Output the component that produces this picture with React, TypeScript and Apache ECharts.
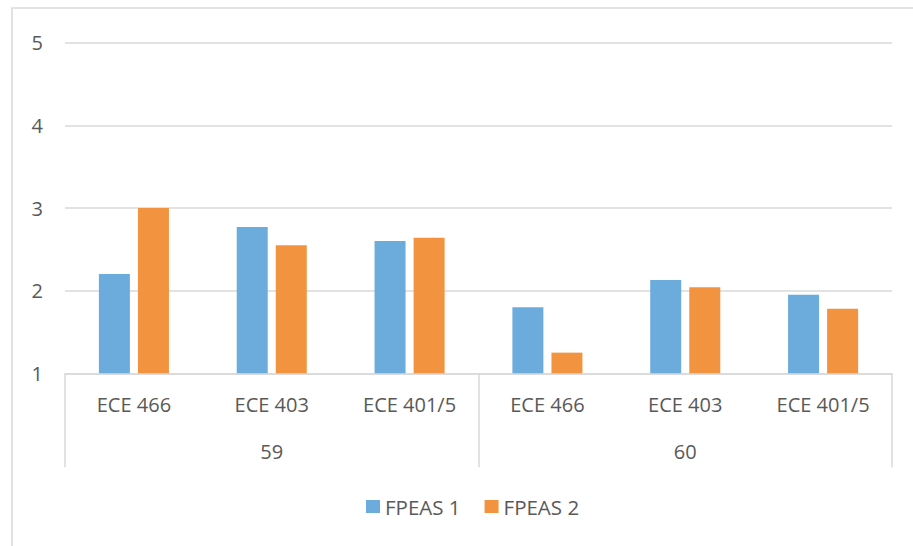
import React, { useEffect, useRef } from "react";
import * as echarts from "echarts";

const courses = ["ECE 466", "ECE 403", "ECE 401/5", "ECE 466", "ECE 403", "ECE 401/5"];
const groups = ["59", "60"];
const fpeas1 = [2.2, 2.77, 2.6, 1.8, 2.13, 1.95];
const fpeas2 = [3.0, 2.55, 2.64, 1.25, 2.04, 1.78];
const seriesNames = ["FPEAS 1", "FPEAS 2"];

const FONT = "'Open Sans', sans-serif";
const TXT = "#595959";
const LINE = "#d9d9d9";

export default function App() {
  const ref = useRef<HTMLDivElement>(null);
  useEffect(() => {
    document.body.style.margin = "0";
    const chart = echarts.init(ref.current!, null, { renderer: "svg" });
    chart.setOption({
      animation: false,
      backgroundColor: "#ffffff",
      textStyle: { fontFamily: FONT, color: TXT },
      graphic: [
        {
          type: "rect",
          shape: { x: 12, y: 8, width: 960, height: 600 },
          style: { fill: "none", stroke: LINE, lineWidth: 1.5 },
          silent: true,
        },
      ],
      grid: { left: 65, right: 21, top: 42.7, bottom: 172.7, containLabel: false },
      legend: {
        data: seriesNames,
        bottom: 29,
        left: 366,
        padding: 0,
        itemWidth: 14,
        itemHeight: 13,
        itemGap: 24,
        icon: "rect",
        textStyle: { fontFamily: FONT, fontSize: 20.5, color: TXT },
      },
      xAxis: [
        {
          type: "category",
          data: courses,
          position: "bottom",
          axisLine: { show: true, lineStyle: { color: LINE, width: 1.5 } },
          axisTick: { show: false },
          axisLabel: { fontFamily: FONT, fontSize: 20, color: TXT, margin: 21, interval: 0 },
        },
        {
          type: "category",
          data: groups,
          position: "bottom",
          axisLine: { show: false },
          axisTick: { show: true, length: 94, interval: 0, lineStyle: { color: LINE, width: 1.5 } },
          axisLabel: { fontFamily: FONT, fontSize: 20, color: TXT, margin: 68 },
        },
      ],
      yAxis: {
        type: "value",
        min: 1,
        max: 5,
        interval: 1,
        axisLine: { show: false },
        axisTick: { show: false },
        axisLabel: { fontFamily: FONT, fontSize: 20, color: TXT, margin: 22 },
        splitLine: { lineStyle: { color: LINE, width: 1.5 } },
      },
      series: [
        {
          name: seriesNames[0],
          type: "bar",
          xAxisIndex: 0,
          data: fpeas1,
          barWidth: 31,
          barGap: "26%",
          itemStyle: { color: "#6cacdd" },
        },
        {
          name: seriesNames[1],
          type: "bar",
          xAxisIndex: 0,
          data: fpeas2,
          barWidth: 31,
          barGap: "26%",
          itemStyle: { color: "#f29340" },
        },
      ],
    });
    return () => chart.dispose();
  }, []);
  return <div ref={ref} style={{ width: 913, height: 546 }} />;
}
